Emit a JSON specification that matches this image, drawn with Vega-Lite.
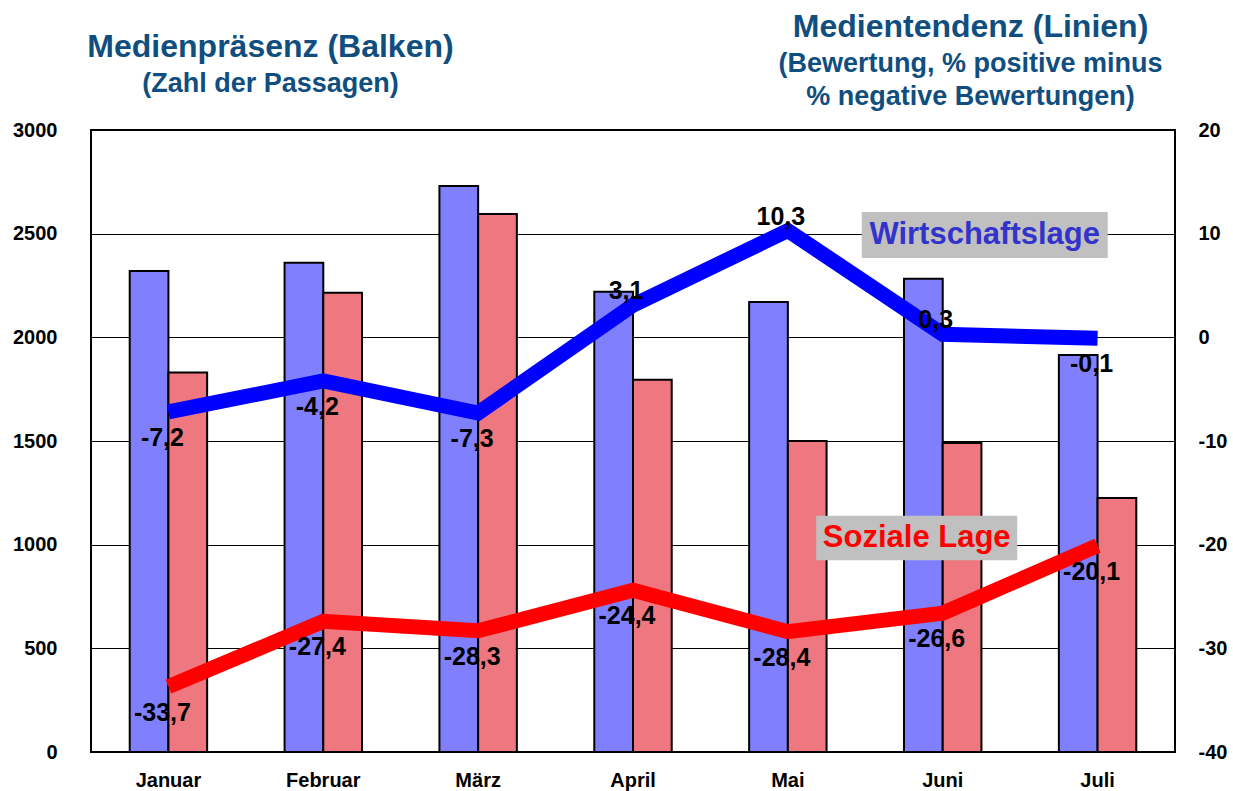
{
  "$schema": "https://vega.github.io/schema/vega-lite/v6.json",
  "width": 1084,
  "height": 622,
  "autosize": {"type": "none"},
  "padding": {"left": 91, "top": 130, "right": 58, "bottom": 39},
  "background": "white",
  "config": {
    "font": "Liberation Sans",
    "locale": {"number": {"decimal": ",", "thousands": ".", "grouping": [3], "currency": ["", " €"], "minus": "-"}},
    "view": {"stroke": "black", "strokeWidth": 2},
    "axis": {"labelFont": "Liberation Sans", "labelFontWeight": "bold", "labelFontSize": 20, "labelColor": "black", "ticks": false, "domain": false, "titleFont": "Liberation Sans", "titleFontWeight": "bold", "titleColor": "#104E80", "titleAngle": 0, "titleAlign": "center", "titleBaseline": "alphabetic", "titleAnchor": null}
  },
  "datasets": {
    "bars": [
      {"month": "Januar", "series": "Wirtschaftslage", "count": 2320},
      {"month": "Januar", "series": "Soziale Lage", "count": 1830},
      {"month": "Februar", "series": "Wirtschaftslage", "count": 2360},
      {"month": "Februar", "series": "Soziale Lage", "count": 2215},
      {"month": "März", "series": "Wirtschaftslage", "count": 2730},
      {"month": "März", "series": "Soziale Lage", "count": 2595},
      {"month": "April", "series": "Wirtschaftslage", "count": 2220},
      {"month": "April", "series": "Soziale Lage", "count": 1795},
      {"month": "Mai", "series": "Wirtschaftslage", "count": 2170},
      {"month": "Mai", "series": "Soziale Lage", "count": 1500},
      {"month": "Juni", "series": "Wirtschaftslage", "count": 2283},
      {"month": "Juni", "series": "Soziale Lage", "count": 1490},
      {"month": "Juli", "series": "Wirtschaftslage", "count": 1915},
      {"month": "Juli", "series": "Soziale Lage", "count": 1225}
    ],
    "lines": [
      {"month": "Januar", "series": "Wirtschaftslage", "value": -7.2},
      {"month": "Februar", "series": "Wirtschaftslage", "value": -4.2},
      {"month": "März", "series": "Wirtschaftslage", "value": -7.3},
      {"month": "April", "series": "Wirtschaftslage", "value": 3.1},
      {"month": "Mai", "series": "Wirtschaftslage", "value": 10.3},
      {"month": "Juni", "series": "Wirtschaftslage", "value": 0.3},
      {"month": "Juli", "series": "Wirtschaftslage", "value": -0.1},
      {"month": "Januar", "series": "Soziale Lage", "value": -33.7},
      {"month": "Februar", "series": "Soziale Lage", "value": -27.4},
      {"month": "März", "series": "Soziale Lage", "value": -28.3},
      {"month": "April", "series": "Soziale Lage", "value": -24.4},
      {"month": "Mai", "series": "Soziale Lage", "value": -28.4},
      {"month": "Juni", "series": "Soziale Lage", "value": -26.6},
      {"month": "Juli", "series": "Soziale Lage", "value": -20.1}
    ]
  },
  "layer": [
    {
      "data": {"name": "bars"},
      "mark": {"type": "bar", "stroke": "black", "strokeWidth": 2},
      "encoding": {
        "x": {
          "field": "month",
          "type": "nominal",
          "sort": ["Januar", "Februar", "März", "April", "Mai", "Juni", "Juli"],
          "scale": {"paddingInner": 0.5, "paddingOuter": 0.25},
          "axis": {
            "orient": "bottom",
            "labelAngle": 0,
            "labelPadding": 18,
            "title": "Medienpräsenz (Balken)",
            "titleFontSize": 32,
            "titleX": 179,
            "titleY": -696
          }
        },
        "xOffset": {"field": "series", "type": "nominal", "sort": ["Wirtschaftslage", "Soziale Lage"], "scale": {"paddingInner": 0, "paddingOuter": 0}},
        "y": {
          "field": "count",
          "type": "quantitative",
          "scale": {"domain": [0, 3000], "nice": false},
          "axis": {"orient": "left", "values": [0, 500, 1000, 1500, 2000, 2500, 3000], "format": "d", "grid": true, "gridColor": "black", "gridWidth": 1, "gridOpacity": 1, "labelPadding": 34,
            "title": "(Zahl der Passagen)", "titleFontSize": 27, "titleX": 179, "titleY": -39}
        },
        "color": {"field": "series", "type": "nominal", "scale": {"domain": ["Wirtschaftslage", "Soziale Lage"], "range": ["#8080FF", "#EE7780"]}, "legend": null}
      }
    },
    {
      "data": {"name": "lines"},
      "encoding": {
        "x": {
          "field": "month",
          "type": "nominal",
          "sort": ["Januar", "Februar", "März", "April", "Mai", "Juni", "Juli"],
          "scale": {"paddingInner": 0.5, "paddingOuter": 0.25},
          "axis": {
            "orient": "top",
            "labels": false,
            "grid": false,
            "title": ["(Bewertung, % positive minus", "% negative Bewertungen)"],
            "titleFontSize": 27,
            "titleX": 879,
            "titleY": -59,
            "titleLineHeight": 33
          }
        }
      },
      "layer": [
        {
          "mark": {"type": "line", "strokeWidth": 15, "strokeCap": "butt", "strokeJoin": "miter"},
          "encoding": {
            "y": {
              "field": "value",
              "type": "quantitative",
              "scale": {"domain": [-40, 20], "nice": false},
              "axis": {
                "orient": "right",
                "values": [-40, -30, -20, -10, 0, 10, 20],
                "format": "d",
                "grid": false,
                "labelPadding": 23,
                "title": "Medientendenz (Linien)",
                "titleFontSize": 32,
                "titleX": -205,
                "titleY": -94
              }
            },
            "color": {"field": "series", "type": "nominal", "scale": {"domain": ["Wirtschaftslage", "Soziale Lage"], "range": ["#0000FF", "#FF0000"]}, "legend": null}
          }
        },
        {
          "data": {"values": [{"month": "Juni", "label": "Wirtschaftslage"}]},
          "mark": {"type": "bar", "width": 246, "xOffset": 42, "color": "#C0C0C0"},
          "encoding": {"y": {"datum": 12.1, "type": "quantitative"}, "y2": {"datum": 7.65}}
        },
        {
          "data": {"values": [{"month": "Juni", "label": "Soziale Lage"}]},
          "mark": {"type": "bar", "width": 201, "xOffset": -26, "color": "#C0C0C0"},
          "encoding": {"y": {"datum": -17.2, "type": "quantitative"}, "y2": {"datum": -21.5}}
        },
        {
          "data": {"values": [{"month": "Juni", "label": "Wirtschaftslage"}]},
          "mark": {"type": "text", "dx": 42, "fontSize": 31, "fontWeight": "bold", "color": "#3333CC", "align": "center", "baseline": "middle"},
          "encoding": {"y": {"datum": 9.9, "type": "quantitative"}, "text": {"field": "label"}}
        },
        {
          "data": {"values": [{"month": "Juni", "label": "Soziale Lage"}]},
          "mark": {"type": "text", "dx": -26, "fontSize": 31, "fontWeight": "bold", "color": "#FF0000", "align": "center", "baseline": "middle"},
          "encoding": {"y": {"datum": -19.35, "type": "quantitative"}, "text": {"field": "label"}}
        },
        {
          "transform": [{"filter": "datum.value < 0"}],
          "mark": {"type": "text", "dx": -6, "dy": 26, "fontSize": 25, "fontWeight": "bold", "color": "black", "align": "center", "baseline": "middle"},
          "encoding": {
            "y": {"field": "value", "type": "quantitative", "title": "Medientendenz (Linien)"},
            "text": {"field": "value", "type": "quantitative", "format": ".1f"}
          }
        },
        {
          "transform": [{"filter": "datum.value >= 0"}],
          "mark": {"type": "text", "dx": -7, "dy": -14, "fontSize": 25, "fontWeight": "bold", "color": "black", "align": "center", "baseline": "middle"},
          "encoding": {
            "y": {"field": "value", "type": "quantitative", "title": "Medientendenz (Linien)"},
            "text": {"field": "value", "type": "quantitative", "format": ".1f"}
          }
        }
      ]
    }
  ],
  "resolve": {"scale": {"y": "independent", "color": "independent"}, "axis": {"x": "independent"}}
}
